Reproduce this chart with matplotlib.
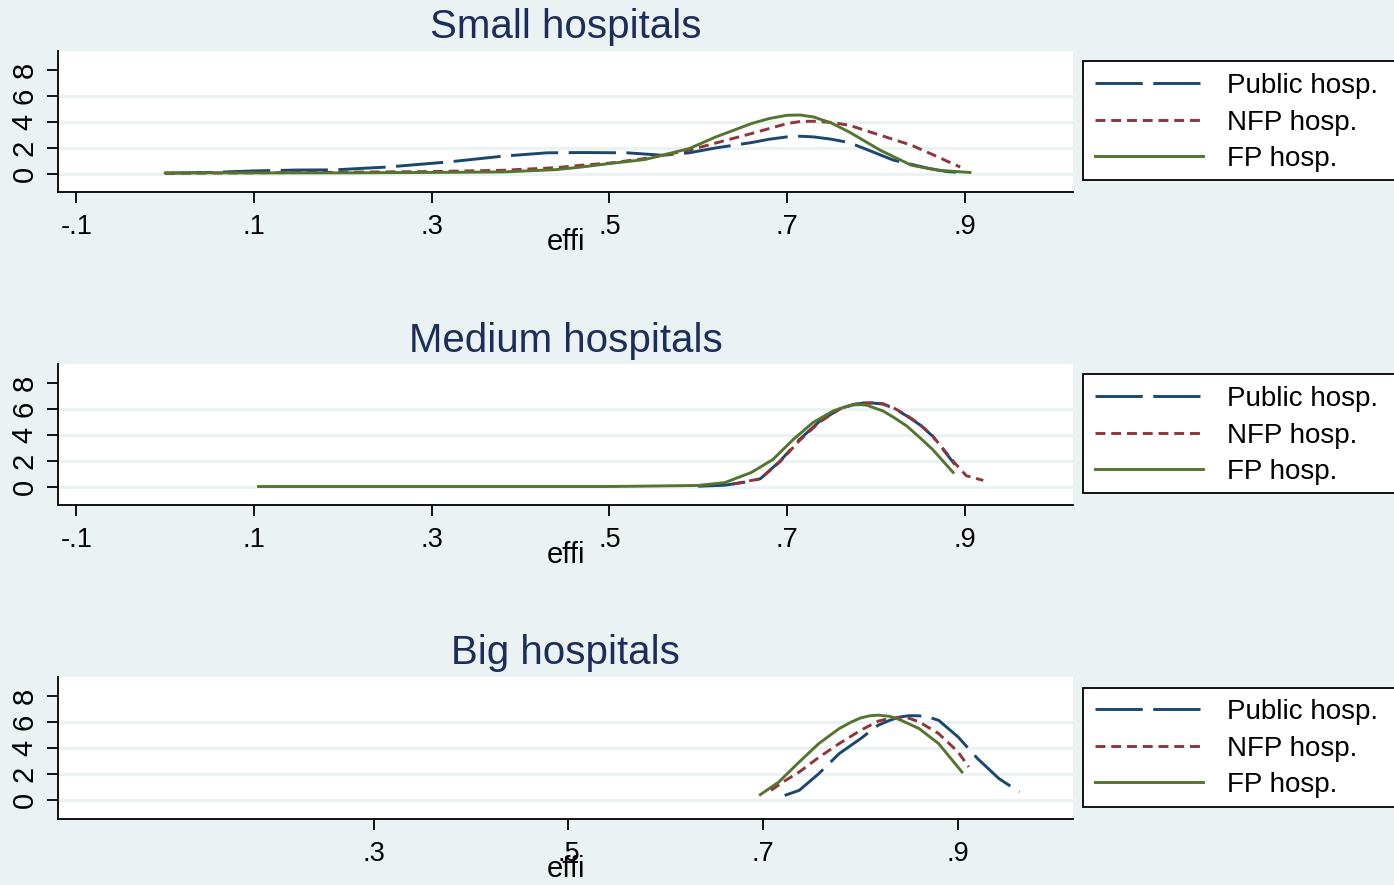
"""Kernel density of hospital efficiency by size class and ownership (Stata s2color look)."""

import matplotlib.pyplot as plt
from matplotlib.patches import Rectangle

plt.rcParams["font.family"] = ["Liberation Sans", "DejaVu Sans"]

W, H = 1394, 885
BG = "#EAF2F3"
TITLE_COLOR = "#1c2d5a"
COLORS = {"Public hosp.": "#1A476F", "NFP hosp.": "#90353B", "FP hosp.": "#55752F"}

titles = ["Small hospitals", "Medium hospitals", "Big hospitals"]
series_names = ["Public hosp.", "NFP hosp.", "FP hosp."]
xlabel = "effi"
yticks = [0, 2, 4, 6, 8]
xticks_small_medium = [-0.1, 0.1, 0.3, 0.5, 0.7, 0.9]
xticks_big = [0.3, 0.5, 0.7, 0.9]
xtick_labels_small_medium = ["-.1", ".1", ".3", ".5", ".7", ".9"]
xtick_labels_big = [".3", ".5", ".7", ".9"]

# Small hospitals
small_public_x = [0.0, 0.05, 0.10, 0.15, 0.19, 0.25, 0.32, 0.38, 0.43, 0.47, 0.52, 0.56,
                  0.59, 0.62, 0.66, 0.68, 0.70, 0.715, 0.73, 0.75, 0.77, 0.79, 0.82, 0.86, 0.88, 0.90]
small_public_y = [0.02, 0.08, 0.20, 0.27, 0.28, 0.50, 0.90, 1.34, 1.60, 1.62, 1.60, 1.41,
                  1.60, 1.98, 2.39, 2.65, 2.83, 2.88, 2.83, 2.65, 2.39, 1.85, 1.03, 0.39, 0.15, 0.05]
small_nfp_x = [0.0, 0.10, 0.20, 0.30, 0.38, 0.44, 0.47, 0.50, 0.54, 0.59, 0.62, 0.66,
               0.70, 0.715, 0.73, 0.75, 0.77, 0.805, 0.84, 0.87, 0.885, 0.895]
small_nfp_y = [0.02, 0.05, 0.10, 0.15, 0.25, 0.45, 0.65, 0.80, 1.16, 1.80, 2.36, 3.09,
               3.86, 4.02, 4.04, 3.95, 3.73, 2.96, 2.19, 1.28, 0.80, 0.50]
small_fp_x = [0.0, 0.10, 0.20, 0.30, 0.38, 0.44, 0.47, 0.50, 0.54, 0.59, 0.62, 0.66,
              0.68, 0.70, 0.715, 0.73, 0.75, 0.77, 0.805, 0.84, 0.87, 0.906]
small_fp_y = [0.05, 0.05, 0.05, 0.08, 0.12, 0.30, 0.51, 0.77, 1.08, 1.93, 2.83, 3.86,
              4.25, 4.50, 4.52, 4.37, 3.90, 3.21, 1.80, 0.64, 0.25, 0.08]

# Medium hospitals
medium_public_x = [0.60, 0.63, 0.658, 0.67, 0.692, 0.714, 0.737, 0.76, 0.775, 0.786, 0.797,
                   0.808, 0.82, 0.835, 0.85, 0.864, 0.889]
medium_public_y = [0.02, 0.10, 0.39, 0.60, 1.95, 3.63, 5.06, 6.02, 6.35, 6.45, 6.45,
                   6.37, 6.05, 5.45, 4.75, 3.89, 1.70]
medium_nfp_x = [0.64, 0.67, 0.692, 0.714, 0.737, 0.76, 0.775, 0.786, 0.797, 0.808, 0.82,
                0.835, 0.85, 0.864, 0.889, 0.902, 0.921]
medium_nfp_y = [0.20, 0.60, 1.90, 3.55, 5.00, 6.00, 6.33, 6.45, 6.47, 6.40, 6.08,
                5.50, 4.78, 3.90, 1.80, 0.83, 0.47]
medium_fp_x = [0.105, 0.20, 0.30, 0.40, 0.50, 0.54, 0.60, 0.63, 0.66, 0.684, 0.707, 0.729,
               0.752, 0.765, 0.774, 0.783, 0.79, 0.808, 0.82, 0.835, 0.85, 0.864, 0.887]
medium_fp_y = [0.0, 0.0, 0.0, 0.0, 0.0, 0.03, 0.08, 0.30, 1.09, 2.08, 3.63, 4.93,
               5.84, 6.15, 6.30, 6.33, 6.28, 5.84, 5.35, 4.67, 3.75, 2.86, 1.09]

# Big hospitals
big_public_x = [0.722, 0.737, 0.757, 0.778, 0.80, 0.818, 0.83, 0.84, 0.85, 0.86, 0.87, 0.88,
                0.90, 0.92, 0.942, 0.963]
big_public_y = [0.38, 0.77, 2.05, 3.59, 4.74, 5.77, 6.15, 6.40, 6.50, 6.49, 6.38, 6.15,
                4.87, 3.21, 1.67, 0.64]
big_nfp_x = [0.708, 0.72, 0.737, 0.757, 0.778, 0.80, 0.818, 0.83, 0.84, 0.85, 0.86, 0.88,
             0.90, 0.911]
big_nfp_y = [0.77, 1.40, 2.18, 3.30, 4.36, 5.38, 6.08, 6.30, 6.36, 6.30, 6.03, 5.13,
             3.72, 2.56]
big_fp_x = [0.697, 0.706, 0.716, 0.726, 0.737, 0.757, 0.778, 0.79, 0.80, 0.81, 0.818, 0.83,
            0.84, 0.86, 0.88, 0.904]
big_fp_y = [0.44, 0.90, 1.41, 2.15, 2.95, 4.36, 5.51, 6.00, 6.33, 6.50, 6.54, 6.45,
            6.20, 5.51, 4.36, 2.18]

panels = [
    (titles[0], [(small_public_x, small_public_y), (small_nfp_x, small_nfp_y), (small_fp_x, small_fp_y)],
     xticks_small_medium, xtick_labels_small_medium, (-0.1207, 1.022)),
    (titles[1], [(medium_public_x, medium_public_y), (medium_nfp_x, medium_nfp_y), (medium_fp_x, medium_fp_y)],
     xticks_small_medium, xtick_labels_small_medium, (-0.1207, 1.022)),
    (titles[2], [(big_public_x, big_public_y), (big_nfp_x, big_nfp_y), (big_fp_x, big_fp_y)],
     xticks_big, xtick_labels_big, (-0.024, 1.018)),
]

STYLES = {
    "Public hosp.": dict(linestyle=(0, (16.2, 3.6))),
    "NFP hosp.": dict(linestyle=(0, (3.4, 2.0))),
    "FP hosp.": dict(linestyle="-"),
}

# pixel boxes (top, bottom) for each plot region
AX_TOPS = [51, 364, 677]
AX_BOTTOMS = [192, 505, 819]
AX_LEFT, AX_RIGHT = 58, 1073


def px_rect(l, t, r, b):
    return [l / W, 1 - b / H, (r - l) / W, (b - t) / H]


fig = plt.figure(figsize=(W / 100, H / 100), dpi=100, facecolor=BG)

for i, (title, data, xt, xtl, xlim) in enumerate(panels):
    top, bot = AX_TOPS[i], AX_BOTTOMS[i]
    ax = fig.add_axes(px_rect(AX_LEFT, top, AX_RIGHT, bot))
    ax.set_facecolor("white")

    for gy in yticks[:-1]:
        ax.axhline(gy, color=BG, lw=2.2, zorder=0)

    handles = []
    for name, (xs, ys) in zip(series_names, data):
        (ln,) = ax.plot(xs, ys, color=COLORS[name], lw=2.1, label=name, **STYLES[name])
        handles.append(ln)

    ax.set_xlim(*xlim)
    ax.set_ylim(-1.43, 9.47)
    ax.set_xticks(xt)
    ax.set_xticklabels(xtl)
    ax.set_yticks(yticks)
    ax.set_yticklabels([str(v) for v in yticks], rotation=90, va="center")

    for s in ["top", "right"]:
        ax.spines[s].set_visible(False)
    for s in ["left", "bottom"]:
        ax.spines[s].set_linewidth(1.3)
        ax.spines[s].set_color("black")
    ax.tick_params(axis="both", length=8, width=1.3, color="black")
    ax.tick_params(axis="x", labelsize=19.5, pad=8)
    ax.tick_params(axis="y", labelsize=21, pad=6)

    ax.set_xlabel(xlabel, fontsize=21)
    ax.xaxis.set_label_coords(0.5, -0.255)

    ax.set_title(title, fontsize=29, color=TITLE_COLOR, pad=9)

    # legend frame runs off the right edge, as in the source
    fig.patches.append(Rectangle((1083 / W, 1 - (bot - 12) / H), 330 / W, 119 / H,
                                 transform=fig.transFigure, facecolor="white",
                                 edgecolor="black", lw=1.3, zorder=-1))
    ax.legend(handles=handles, loc="upper left", frameon=False,
              bbox_to_anchor=(1095 / W, 1 - (top + 22) / H), bbox_transform=fig.transFigure,
              fontsize=20, borderpad=0, borderaxespad=0, handlelength=3.9,
              handletextpad=0.86, labelspacing=0.38)

fig.savefig("out.png", dpi=100, facecolor=BG)
